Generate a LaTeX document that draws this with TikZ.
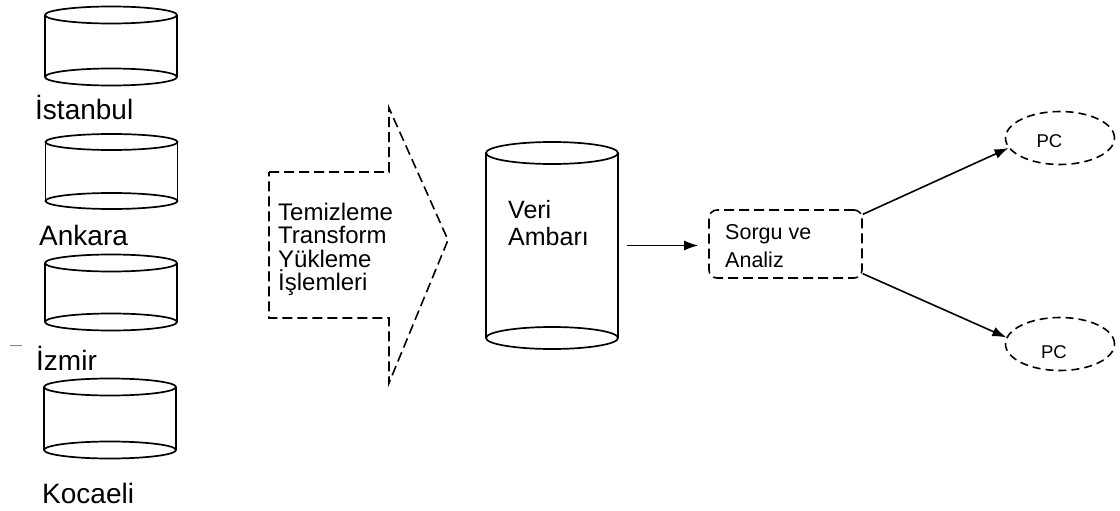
\documentclass[tikz,border=0pt]{standalone}
\usepackage{fontspec}
\setmainfont{Liberation Sans}
\usetikzlibrary{shapes.geometric,arrows.meta}
\tikzset{
  cyl/.style={line width=1.7pt, black},
  dashline/.style={line width=1.6pt, dash pattern=on 10pt off 5pt},
  citylbl/.style={font=\fontsize{28}{30}\selectfont, anchor=base west, inner sep=0},
  etllbl/.style={font=\fontsize{24}{24}\selectfont, anchor=base west, inner sep=0},
  dwlbl/.style={font=\fontsize{25}{26}\selectfont, anchor=base west, inner sep=0},
  sorgulbl/.style={font=\fontsize{21.5}{24}\selectfont, anchor=base west, inner sep=0},
  pclbl/.style={font=\fontsize{18.5}{20}\selectfont, anchor=base, inner sep=0},
  conn/.style={line width=1.6pt, -{Latex[length=14pt,width=10pt]}},
  pcnode/.style={ellipse, draw, line width=1.6pt, dash pattern=on 8pt off 5pt,
    minimum width=109pt, minimum height=53pt, inner sep=0},
  sorgubox/.style={draw, line width=1.6pt, dash pattern=on 10pt off 5pt, rounded corners=8pt,
    minimum width=153pt, minimum height=68pt, inner sep=0},
}
% name, cx, cy, height, rx, ry
\newcommand{\dbcyl}[6]{%
  \node[minimum width={2*#5}, minimum height=#4, inner sep=0, outer sep=0] (#1) at (#2,#3) {};
  \draw[cyl] (#1.north west) -- (#1.south west) (#1.north east) -- (#1.south east);
  \draw[cyl] (#1.north) ellipse [x radius=#5, y radius=#6];
  \draw[cyl] (#1.south) ellipse [x radius=#5, y radius=#6];
}
\begin{document}
\begin{tikzpicture}[x=1pt,y=-1pt]
\useasboundingbox (0,0) rectangle (1120,511);

% source databases
\dbcyl{c1}{111}{46}{62}{66}{8.5}
\dbcyl{c2}{111.5}{171.5}{59}{66}{8}
\dbcyl{c3}{111}{292.5}{59}{66}{8.5}
\dbcyl{c4}{110}{418.5}{63}{66}{8.5}

\node[citylbl] (l1) at (35,120) {İstanbul};
\node[citylbl] (l2) at (39,245) {Ankara};
\node[citylbl] (l3) at (36,370) {İzmir};
\node[citylbl] (l4) at (42,503) {Kocaeli};
\draw[line width=1pt, gray] (10,345) -- (22,345);

% ETL arrow
\draw[dashline] (269,172) -- (389,172) -- (389,108) -- (448,240) -- (389,383)
  -- (389,318) -- (269,318) -- cycle;
\node[etllbl] (e1) at (278,220) {Temizleme};
\node[etllbl] (e2) at (278,243.5) {Transform};
\node[etllbl] (e3) at (278,267) {Yükleme};
\node[etllbl] (e4) at (278,290.5) {İşlemleri};

% data warehouse
\dbcyl{dw}{552}{245.5}{185}{66}{11}
\node[dwlbl] (dw1) at (508,218) {Veri};
\node[dwlbl] (dw2) at (508,245) {Ambarı};

% query box
\node[sorgubox] (sorgu) at (785.5,244) {};
\node[sorgulbl] (s1) at (725,239) {Sorgu ve};
\node[sorgulbl] (s2) at (725,267) {Analiz};

% PCs
\node[pcnode] (pc1) at (1060,138) {};
\node[pcnode] (pc2) at (1060,344) {};
\node[pclbl] (p1) at (1049.5,147) {PC};
\node[pclbl] (p2) at (1054,358) {PC};

% connectors
\draw[conn, shorten <=9pt, shorten >=10pt] (dw.east) -- (dw.east -| sorgu.west);
\draw[conn] (sorgu.21) -- (pc1.191);
\draw[conn] (sorgu.-21) -- (pc2.173);
\end{tikzpicture}
\end{document}
